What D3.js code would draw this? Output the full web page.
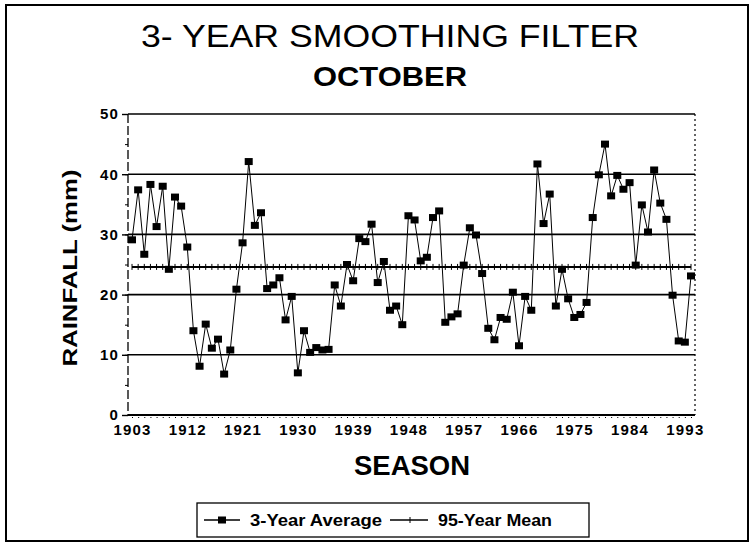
<!DOCTYPE html>
<html>
<head>
<meta charset="utf-8">
<script src="https://cdn.jsdelivr.net/npm/d3@7"></script>
<style>
    body { margin: 0; background: #fff; }
    svg  { display: block; font-family: "Liberation Sans", Arial, sans-serif; }
</style>
</head>
<body>
<div id="chart"></div>
<script>
// October rainfall, 3-year running average (mm), one value per season 1903..1994
const firstYear = 1903;
const avgValues = [
    29.1, 37.4, 26.7, 38.3, 31.3, 38.0, 24.2, 36.2, 34.7, 27.9,
    14.0, 8.1, 15.1, 11.1, 12.6, 6.8, 10.8, 20.9, 28.6, 42.1,
    31.5, 33.6, 21.0, 21.6, 22.8, 15.8, 19.7, 7.0, 14.0, 10.4,
    11.2, 10.8, 10.9, 21.6, 18.1, 25.0, 22.3, 29.3, 28.8, 31.7,
    22.0, 25.5, 17.4, 18.1, 15.0, 33.1, 32.4, 25.6, 26.2, 32.8,
    33.9, 15.4, 16.3, 16.8, 24.9, 31.1, 29.9, 23.5, 14.4, 12.5,
    16.2, 15.9, 20.4, 11.5, 19.7, 17.4, 41.7, 31.8, 36.7, 18.1,
    24.2, 19.3, 16.2, 16.7, 18.7, 32.8, 39.9, 45.0, 36.4, 39.8,
    37.5, 38.6, 24.9, 34.9, 30.4, 40.7, 35.2, 32.5, 19.9, 12.3,
    12.1, 23.1
];
const meanValue  = 24.6;
const xTickYears = [1903, 1912, 1921, 1930, 1939, 1948, 1957, 1966, 1975, 1984, 1993];
const yTicks     = [0, 10, 20, 30, 40, 50];
const legendText = ["3-Year Average", "95-Year Mean"];

const avgData  = avgValues.map((v, i) => ({ year: firstYear + i, value: v }));
const meanData = avgData.map(d => ({ year: d.year, value: meanValue }));

const width  = 751,
      height = 546,
      left   = 128,
      right  = 695,
      x      = d3.scaleLinear().domain([firstYear, firstYear + avgValues.length - 1]).range([132, 691]),
      y      = d3.scaleLinear().domain([0, 50]).range([415, 114]);

const svg = d3.select('#chart').append('svg')
    .attr('width', width)
    .attr('height', height);

// outer frame
svg.append('rect')
    .attr('x', 6).attr('y', 5)
    .attr('width', 742).attr('height', 536)
    .attr('fill', 'none')
    .attr('stroke', '#000')
    .attr('stroke-width', 2);

// titles
svg.append('text')
    .attr('x', 390).attr('y', 47)
    .attr('text-anchor', 'middle')
    .attr('font-size', 32)
    .attr('textLength', 498)
    .attr('lengthAdjust', 'spacingAndGlyphs')
    .text('3- YEAR SMOOTHING FILTER');

svg.append('text')
    .attr('x', 390).attr('y', 86)
    .attr('text-anchor', 'middle')
    .attr('font-size', 27)
    .attr('font-weight', 'bold')
    .attr('textLength', 154)
    .attr('lengthAdjust', 'spacingAndGlyphs')
    .text('OCTOBER');

// horizontal grid
svg.append('g')
    .selectAll('line')
    .data(yTicks.filter(d => d > 0))
    .join('line')
    .attr('x1', left).attr('x2', right)
    .attr('y1', d => y(d)).attr('y2', d => y(d))
    .attr('stroke', '#000')
    .attr('stroke-width', 1.6);

// y axis
const yAxis = svg.append('g')
    .attr('transform', `translate(${left},0)`)
    .call(d3.axisLeft(y).tickValues(yTicks).tickSize(6).tickPadding(3));
yAxis.select('.domain').remove();
yAxis.selectAll('text')
    .attr('font-family', '"Liberation Sans", Arial, sans-serif')
    .attr('font-size', 15)
    .attr('font-weight', 'bold')
    .attr('letter-spacing', 1.2)
    .attr('fill', '#000');
yAxis.selectAll('line').attr('stroke', '#000').attr('stroke-width', 1.4);

svg.append('g')
    .attr('transform', `translate(${left},0)`)
    .call(d3.axisLeft(y).ticks(10).tickSize(3).tickFormat(''))
    .call(g => g.select('.domain').remove())
    .selectAll('line').attr('stroke', '#000');

svg.append('line')
    .attr('x1', left).attr('x2', left)
    .attr('y1', y(50)).attr('y2', y(0))
    .attr('stroke', '#000')
    .attr('stroke-width', 1.3)
    .attr('stroke-dasharray', '9,3');

// right edge, dotted
svg.append('line')
    .attr('x1', right).attr('x2', right)
    .attr('y1', y(50)).attr('y2', y(0))
    .attr('stroke', '#000')
    .attr('stroke-width', 1.2)
    .attr('stroke-dasharray', '2,3');

// x axis
const xAxis = svg.append('g')
    .attr('transform', `translate(0,${y(0)})`)
    .call(d3.axisBottom(x).tickValues(xTickYears).tickFormat(d3.format('d')).tickSize(0).tickPadding(9));
xAxis.select('.domain').remove();
xAxis.selectAll('text')
    .attr('font-family', '"Liberation Sans", Arial, sans-serif')
    .attr('font-size', 15)
    .attr('font-weight', 'bold')
    .attr('letter-spacing', 1.2)
    .attr('fill', '#000');

svg.append('g')
    .attr('transform', `translate(0,${y(0)})`)
    .call(d3.axisBottom(x).tickValues(avgData.map(d => d.year)).tickSize(4).tickFormat(''))
    .call(g => g.select('.domain').remove())
    .selectAll('line').attr('stroke', '#000').attr('stroke-dasharray', '1,1');

svg.append('line')
    .attr('x1', left).attr('x2', right)
    .attr('y1', y(0)).attr('y2', y(0))
    .attr('stroke', '#000')
    .attr('stroke-width', 2);

// axis titles
svg.append('text')
    .attr('transform', `translate(77,${268}) rotate(-90)`)
    .attr('text-anchor', 'middle')
    .attr('font-size', 20)
    .attr('font-weight', 'bold')
    .attr('textLength', 197)
    .attr('lengthAdjust', 'spacingAndGlyphs')
    .text('RAINFALL (mm)');

svg.append('text')
    .attr('x', 412).attr('y', 475)
    .attr('text-anchor', 'middle')
    .attr('font-size', 27)
    .attr('font-weight', 'bold')
    .attr('textLength', 116)
    .attr('lengthAdjust', 'spacingAndGlyphs')
    .text('SEASON');

// 95-year mean line with small cross ticks
const line = d3.line().x(d => x(d.year)).y(d => y(d.value));

svg.append('path')
    .datum(meanData)
    .attr('d', line)
    .attr('fill', 'none')
    .attr('stroke', '#000')
    .attr('stroke-width', 2);

svg.append('g')
    .selectAll('line')
    .data(meanData)
    .join('line')
    .attr('x1', d => x(d.year)).attr('x2', d => x(d.year))
    .attr('y1', d => y(d.value) - 3).attr('y2', d => y(d.value) + 3)
    .attr('stroke', '#000');

// 3-year average series
svg.append('path')
    .datum(avgData)
    .attr('d', line)
    .attr('fill', 'none')
    .attr('stroke', '#000')
    .attr('stroke-width', 1);

svg.append('g')
    .selectAll('rect')
    .data(avgData)
    .join('rect')
    .attr('x', d => x(d.year) - 4)
    .attr('y', d => y(d.value) - 3.5)
    .attr('width', 8)
    .attr('height', 7)
    .attr('fill', '#000');

// legend
const legend = svg.append('g');
legend.append('rect')
    .attr('x', 197).attr('y', 503)
    .attr('width', 392).attr('height', 34)
    .attr('fill', 'none')
    .attr('stroke', '#000')
    .attr('stroke-width', 1.3);

legend.append('line')
    .attr('x1', 204).attr('x2', 240).attr('y1', 520).attr('y2', 520)
    .attr('stroke', '#000').attr('stroke-width', 1.5);
legend.append('rect')
    .attr('x', 218).attr('y', 516.5).attr('width', 8).attr('height', 7)
    .attr('fill', '#000');

legend.append('line')
    .attr('x1', 390).attr('x2', 428).attr('y1', 520).attr('y2', 520)
    .attr('stroke', '#000').attr('stroke-width', 1.5);
legend.append('line')
    .attr('x1', 410).attr('x2', 410).attr('y1', 517).attr('y2', 523)
    .attr('stroke', '#000');

legend.selectAll('text')
    .data(legendText)
    .join('text')
    .attr('x', (d, i) => i ? 438 : 250)
    .attr('y', 526)
    .attr('font-size', 16)
    .attr('font-weight', 'bold')
    .attr('textLength', (d, i) => i ? 114 : 132)
    .attr('lengthAdjust', 'spacingAndGlyphs')
    .text(d => d);
</script>
</body>
</html>
